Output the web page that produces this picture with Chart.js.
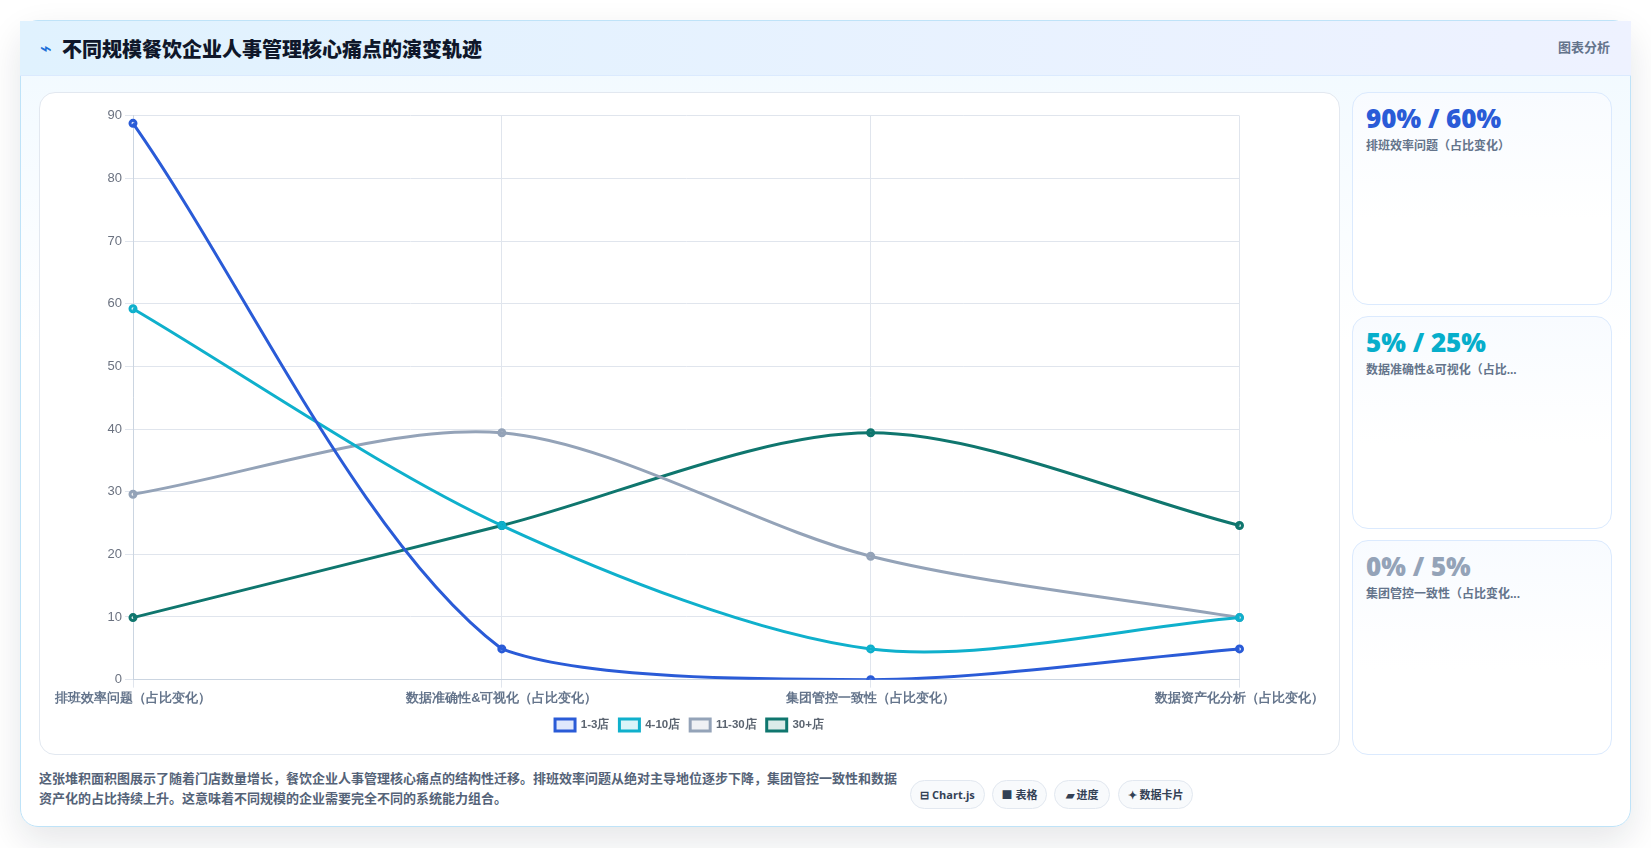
<!DOCTYPE html>
<html lang="zh">
<head>
<meta charset="utf-8">
<title>不同规模餐饮企业人事管理核心痛点的演变轨迹</title>
<script src="https://cdn.jsdelivr.net/npm/chart.js@4"></script>
<style>
    * { box-sizing: border-box; }
    html, body { margin: 0; height: 100%; background: #fff; overflow: hidden; }
    body { font-family: "Liberation Sans", "Noto Sans CJK SC", sans-serif; color: #0f172a; }

    .card {
        position: absolute; left: 20px; top: 20px; width: 1611px; height: 807px;
        border: 1px solid #bfe3f8; border-radius: 18px;
        background: linear-gradient(180deg, #f0f9ff 0%, #ffffff 40%);
        box-shadow: 0 14px 36px rgba(15, 23, 42, 0.11);
    }
    .card-head {
        position: absolute; left: -1px; right: -1px; top: 0; height: 55px;
        background: linear-gradient(90deg, #e0f2fe, #eef2ff);
        border-bottom: 1px solid #dbeafe;
    }
    .card-head .icon { position: absolute; left: 20px; top: 15px; font: 700 20px "DejaVu Sans"; color: #1d6fd8; }
    .card-head h1 { position: absolute; left: 42px; top: 15px; margin: 0; font-size: 20px; line-height: 28px; font-weight: 800; }
    .card-head .tag { position: absolute; right: 21px; top: 17px; font-size: 13px; line-height: 20px; font-weight: 600; color: #64748b; }

    .panel {
        position: absolute; left: 18px; top: 71px; width: 1301px; height: 663px;
        background: #fff; border: 1px solid #e2e8f0; border-radius: 16px;
    }
    .canvas-wrap { position: absolute; left: 12px; top: 12px; right: 12px; bottom: 13px; }

    .kpi {
        position: absolute; left: 1331px; width: 260px;
        border: 1px solid #dbeafe; border-radius: 16px; padding: 7px 13px;
        background: linear-gradient(180deg, #f8fbff, #ffffff 60%);
    }
    .kpi b { display: block; font: 800 26px/37px "Open Sans", sans-serif; }
    .kpi span { display: block; font-size: 12px; line-height: 18px; font-weight: 700; color: #64748b; }

    .note {
        position: absolute; left: 18px; top: 748px; width: 860px;
        font-size: 13px; line-height: 20px; font-weight: 600; color: #556378;
    }
    .pill {
        position: absolute; top: 759px; height: 29px; text-align: center;
        background: #f8fafc; border: 1px solid #e2e8f0; border-radius: 15px;
        font: 700 11px/27px "Open Sans", "Noto Sans CJK SC", sans-serif; color: #334155; white-space: nowrap;
    }
</style>
</head>
<body>
<div class="card">
    <div class="card-head">
        <span class="icon">⌁</span>
        <h1 id="title"></h1>
        <span class="tag">图表分析</span>
    </div>
    <div class="panel"><div class="canvas-wrap"><canvas id="trend-chart"></canvas></div></div>
    <div id="kpis"></div>
    <div class="note" id="note"></div>
    <div id="pills"></div>
</div>

<script>
    const categories = ['排班效率问题（占比变化）', '数据准确性&可视化（占比变化）', '集团管控一致性（占比变化）', '数据资产化分析（占比变化）'];
    const seriesNames = ['1-3店', '4-10店', '11-30店', '30+店'];
    const small = [88.8, 4.9, 0, 4.9];
    const medium = [59.2, 24.6, 4.9, 9.9];
    const large = [29.6, 39.4, 19.7, 9.9];
    const chain = [9.9, 24.6, 39.4, 24.6];
    const lineColors = ['#2a5bd7', '#0fb0cc', '#94a3b8', '#0f766e'];
    const fillColors = ['rgba(37,99,235,0.15)', 'rgba(6,182,212,0.15)', 'rgba(148,163,184,0.15)', 'rgba(15,118,110,0.15)'];
    const yTicks = [0, 90, 10];

    const kpiValues = ['90% / 60%', '5% / 25%', '0% / 5%'];
    const kpiLabels = ['排班效率问题（占比变化）', '数据准确性&可视化（占比...', '集团管控一致性（占比变化...'];
    const kpiColors = ['#2a5bd7', '#06aecb', '#94a3b8'];
    const kpiTops = [71, 295, 519];
    const kpiHeights = [213, 213, 215];

    const pillNames = ['⊟ Chart.js', '■ 表格', '▰ 进度', '✦ 数据卡片'];
    const pillLefts = [889, 971, 1033, 1097];
    const pillWidths = [75, 55, 56, 75];

    document.getElementById('title').textContent = '不同规模餐饮企业人事管理核心痛点的演变轨迹';
    document.getElementById('note').textContent = '这张堆积面积图展示了随着门店数量增长，餐饮企业人事管理核心痛点的结构性迁移。排班效率问题从绝对主导地位逐步下降，集团管控一致性和数据资产化的占比持续上升。这意味着不同规模的企业需要完全不同的系统能力组合。';

    // side cards
    document.getElementById('kpis').innerHTML = kpiValues.map((v, i) =>
        `<div class="kpi" style="top:${kpiTops[i]}px;height:${kpiHeights[i]}px"><b style="color:${kpiColors[i]}">${v}</b><span>${kpiLabels[i]}</span></div>`
    ).join('');

    // footer pills
    document.getElementById('pills').innerHTML = pillNames.map((p, i) =>
        `<div class="pill" style="left:${pillLefts[i]}px;width:${pillWidths[i]}px">${p}</div>`
    ).join('');

    const allSeries = [small, medium, large, chain];
    const wrap = document.querySelector('.canvas-wrap');
    const canvas = document.getElementById('trend-chart');
    canvas.style.width = wrap.clientWidth + 'px';
    canvas.style.height = wrap.clientHeight + 'px';

    new Chart(canvas, {
        type: 'line',
        data: {
            labels: categories,
            datasets: allSeries.map((data, i) => ({
                label: seriesNames[i],
                data: data,
                borderColor: lineColors[i],
                backgroundColor: fillColors[i],
                borderWidth: 3,
                tension: 0.3,
                fill: false,
                pointRadius: 3,
                pointBorderWidth: 3
            }))
        },
        options: {
            responsive: false,
            animation: false,
            layout: { padding: { top: 2, left: 2, right: 2, bottom: 0 } },
            scales: {
                x: {
                    offset: false,
                    grid: { color: '#e0e5ed' },
                    border: { color: '#cbd5e1' },
                    ticks: { color: '#64748b', font: { size: 12.8, weight: '700' }, maxRotation: 0, autoSkip: false }
                },
                y: {
                    min: yTicks[0],
                    max: yTicks[1],
                    grid: { color: '#e0e5ed' },
                    border: { color: '#cbd5e1' },
                    ticks: { stepSize: yTicks[2], color: '#6b7280', font: { size: 13 } }
                }
            },
            plugins: {
                legend: {
                    position: 'bottom',
                    labels: { boxWidth: 20, boxHeight: 12, color: '#5b6470', font: { size: 11.5, weight: '600' } }
                },
                tooltip: { enabled: false }
            }
        }
    });
</script>
</body>
</html>
